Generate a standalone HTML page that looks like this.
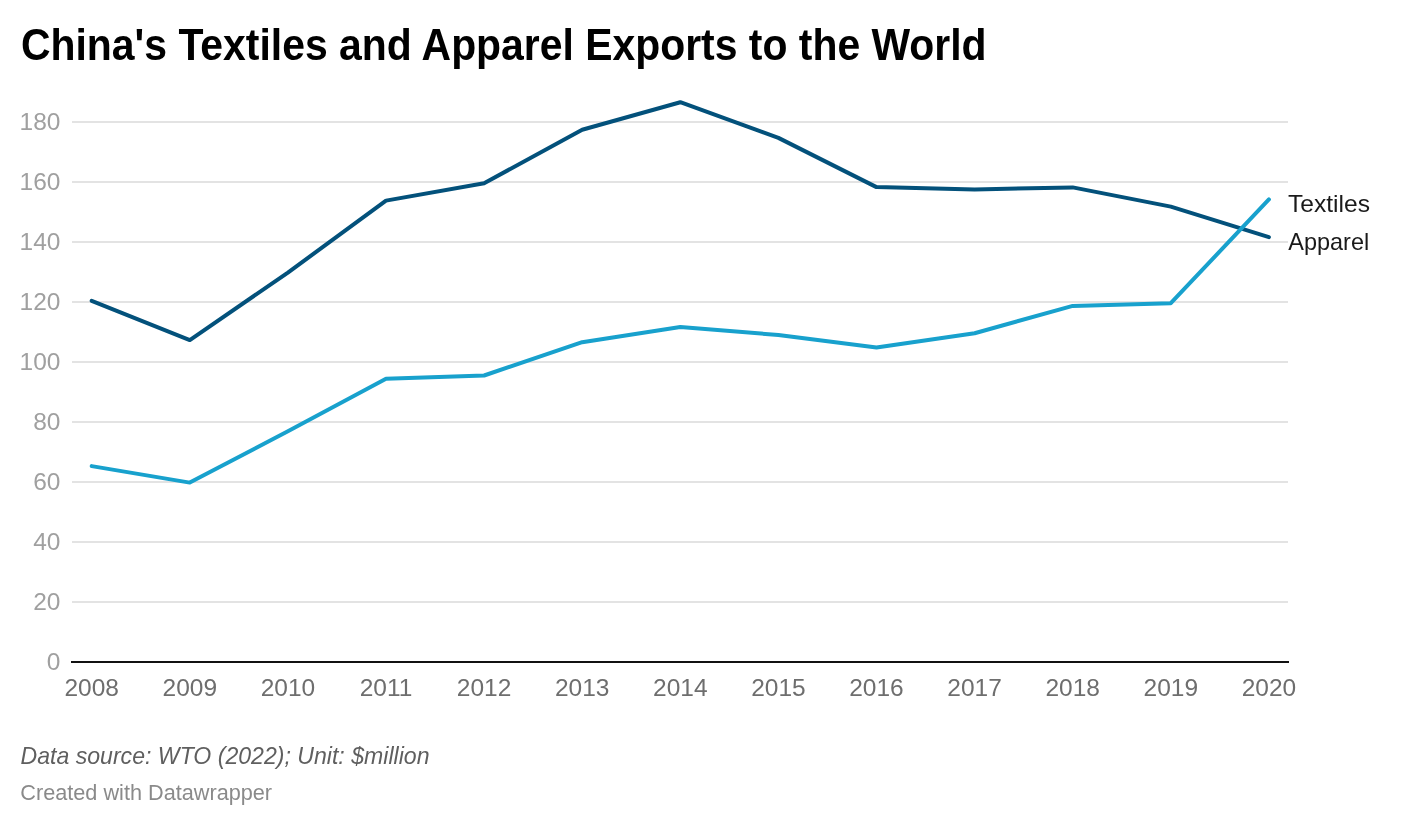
<!DOCTYPE html>
<html><head><meta charset="utf-8">
<style>
html,body{margin:0;padding:0;background:#fff;}
body{width:1410px;height:826px;overflow:hidden;}
svg{display:block;will-change:transform;}
text{font-family:"Liberation Sans",sans-serif;}
</style></head>
<body>
<svg width="1410" height="826" viewBox="0 0 1410 826">
<rect width="1410" height="826" fill="#fff"/>
<text x="21" y="60" font-size="44" font-weight="bold" fill="#000" textLength="965.6" lengthAdjust="spacingAndGlyphs">China's Textiles and Apparel Exports to the World</text>
<g>
<rect x="72" y="601" width="1216" height="2" fill="#e3e3e3"/><rect x="72" y="541" width="1216" height="2" fill="#e3e3e3"/><rect x="72" y="481" width="1216" height="2" fill="#e3e3e3"/><rect x="72" y="421" width="1216" height="2" fill="#e3e3e3"/><rect x="72" y="361" width="1216" height="2" fill="#e3e3e3"/><rect x="72" y="301" width="1216" height="2" fill="#e3e3e3"/><rect x="72" y="241" width="1216" height="2" fill="#e3e3e3"/><rect x="72" y="181" width="1216" height="2" fill="#e3e3e3"/><rect x="72" y="121" width="1216" height="2" fill="#e3e3e3"/>
</g>
<rect x="71" y="661" width="1218" height="2" fill="#111"/>
<g font-size="24.5" fill="#a0a0a0">
<text x="60.4" y="669.6" text-anchor="end">0</text><text x="60.4" y="609.6" text-anchor="end">20</text><text x="60.4" y="549.6" text-anchor="end">40</text><text x="60.4" y="489.6" text-anchor="end">60</text><text x="60.4" y="429.6" text-anchor="end">80</text><text x="60.4" y="369.6" text-anchor="end">100</text><text x="60.4" y="309.6" text-anchor="end">120</text><text x="60.4" y="249.6" text-anchor="end">140</text><text x="60.4" y="189.6" text-anchor="end">160</text><text x="60.4" y="129.6" text-anchor="end">180</text>
</g>
<g font-size="24.5" fill="#6e6e6e">
<text x="91.70" y="695.9" text-anchor="middle">2008</text><text x="189.80" y="695.9" text-anchor="middle">2009</text><text x="287.90" y="695.9" text-anchor="middle">2010</text><text x="386.00" y="695.9" text-anchor="middle">2011</text><text x="484.10" y="695.9" text-anchor="middle">2012</text><text x="582.20" y="695.9" text-anchor="middle">2013</text><text x="680.30" y="695.9" text-anchor="middle">2014</text><text x="778.40" y="695.9" text-anchor="middle">2015</text><text x="876.50" y="695.9" text-anchor="middle">2016</text><text x="974.60" y="695.9" text-anchor="middle">2017</text><text x="1072.70" y="695.9" text-anchor="middle">2018</text><text x="1170.80" y="695.9" text-anchor="middle">2019</text><text x="1268.90" y="695.9" text-anchor="middle">2020</text>
</g>
<polyline points="91.70,300.80 189.80,340.10 287.90,272.60 386.00,200.60 484.10,183.20 582.20,129.80 680.30,102.20 778.40,137.90 876.50,187.10 974.60,189.50 1072.70,187.40 1170.80,206.60 1268.90,237.20" fill="none" stroke="#03517b" stroke-width="4" stroke-linejoin="round" stroke-linecap="round"/>
<polyline points="91.70,466.10 189.80,482.60 287.90,431.30 386.00,378.80 484.10,375.50 582.20,342.20 680.30,326.90 778.40,335.00 876.50,347.60 974.60,333.20 1072.70,305.90 1170.80,303.20 1268.90,199.40" fill="none" stroke="#18a1cd" stroke-width="4" stroke-linejoin="round" stroke-linecap="round"/>
<g font-size="24" fill="#1a1a1a">
<text x="1288" y="212" textLength="82" lengthAdjust="spacingAndGlyphs">Textiles</text>
<text x="1288.3" y="250" textLength="80.9" lengthAdjust="spacingAndGlyphs">Apparel</text>
</g>
<text x="20.5" y="764" font-size="24" font-style="italic" fill="#5f5f5f" textLength="409" lengthAdjust="spacingAndGlyphs">Data source: WTO (2022); Unit: $million</text>
<text x="20.3" y="800" font-size="22" fill="#8a8a8a" textLength="251.8" lengthAdjust="spacingAndGlyphs">Created with Datawrapper</text>
</svg>
</body></html>
